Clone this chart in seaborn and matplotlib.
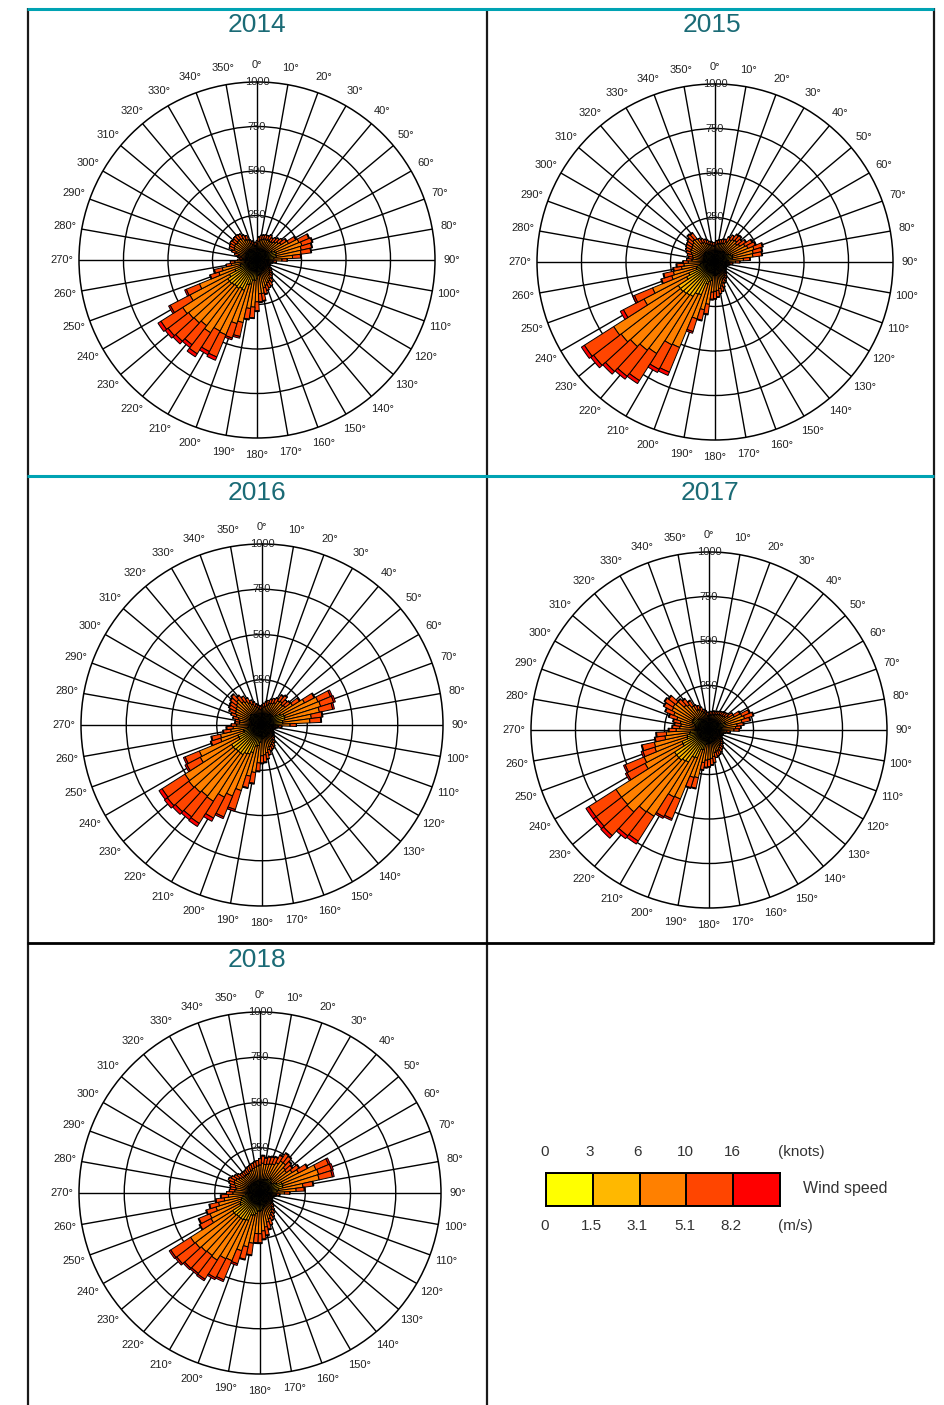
import numpy as np
import pandas as pd
import seaborn as sns
import matplotlib
matplotlib.use("Agg")
import matplotlib.pyplot as plt
from matplotlib.lines import Line2D
from matplotlib.colors import ListedColormap

# ---------------------------------------------------------------------------
# Data: frequency counts per 5-degree direction sector (0, 5, ..., 355)
# split by wind-speed class (m/s): <1.5, 1.5-3.1, 3.1-5.1, 5.1-8.2, >8.2
# ---------------------------------------------------------------------------
directions = list(range(0, 360, 5))
years = ["2014", "2015", "2016", "2017", "2018"]
speed_classes = ["0-1.5", "1.5-3.1", "3.1-5.1", "5.1-8.2", ">8.2"]
speed_colors = ["#FFFF00", "#FFB800", "#FF8000", "#FF4500", "#FF0000"]
knots_ticks = ["0", "3", "6", "10", "16"]
ms_ticks = ["0", "1.5", "3.1", "5.1", "8.2"]

y2014_lt15 = [25, 25, 25, 25, 30, 30, 30, 30, 30, 30, 30, 30,
              40, 40, 40, 40, 40, 40, 30, 25, 25, 25, 25, 25,
              25, 25, 25, 25, 25, 30, 30, 30, 30, 30, 30, 30,
              40, 40, 40, 40, 40, 50, 50, 50, 50, 50, 50, 50,
              50, 40, 40, 40, 30, 30, 25, 25, 25, 25, 30, 30,
              30, 30, 30, 30, 30, 30, 30, 30, 25, 25, 25, 25]
y2014_15_31 = [25, 30, 30, 30, 35, 35, 35, 35, 35, 35, 40, 45,
               55, 70, 75, 70, 70, 55, 35, 25, 25, 25, 25, 25,
               25, 25, 25, 25, 30, 35, 35, 35, 40, 45, 50, 55,
               65, 75, 75, 100, 105, 135, 130, 140, 135, 140, 145, 145,
               125, 95, 60, 55, 40, 35, 25, 25, 25, 30, 35, 35,
               40, 40, 40, 40, 40, 40, 35, 35, 25, 25, 25, 25]
y2014_31_51 = [40, 50, 60, 65, 60, 60, 65, 60, 65, 75, 80, 85,
               105, 145, 150, 145, 140, 105, 75, 40, 30, 20, 20, 20,
               30, 30, 40, 50, 50, 60, 70, 75, 80, 85, 110, 105,
               130, 150, 160, 220, 230, 270, 270, 295, 280, 290, 290, 300,
               250, 215, 125, 105, 75, 60, 40, 30, 40, 50, 60, 75,
               75, 80, 75, 80, 80, 75, 65, 60, 50, 40, 30, 30]
y2014_51_82 = [20, 25, 25, 25, 25, 25, 30, 25, 30, 30, 30, 35,
               45, 60, 60, 60, 55, 45, 30, 20, 10, 10, 10, 10,
               10, 20, 20, 20, 25, 25, 30, 30, 30, 35, 40, 45,
               50, 60, 60, 80, 85, 135, 130, 140, 135, 140, 145, 145,
               125, 80, 50, 45, 30, 25, 20, 20, 20, 25, 25, 30,
               30, 30, 30, 30, 30, 30, 30, 25, 20, 20, 20, 20]
y2014_gt82 = [0, 0, 0, 0, 0, 0, 0, 0, 0, 0, 0, 5,
              5, 5, 5, 5, 5, 5, 0, 0, 0, 0, 0, 0,
              0, 0, 0, 0, 0, 0, 0, 0, 0, 5, 5, 5,
              5, 5, 5, 10, 10, 20, 20, 20, 20, 20, 20, 20,
              10, 10, 5, 5, 0, 0, 0, 0, 0, 0, 0, 0,
              0, 0, 0, 0, 0, 0, 0, 0, 0, 0, 0, 0]

y2015_lt15 = [25, 25, 25, 25, 25, 25, 30, 30, 30, 30, 30, 30,
              30, 40, 40, 40, 40, 30, 25, 25, 25, 25, 25, 25,
              25, 25, 25, 25, 25, 25, 25, 25, 30, 30, 30, 30,
              30, 30, 40, 40, 40, 50, 50, 50, 50, 50, 50, 50,
              50, 50, 40, 40, 30, 30, 30, 30, 30, 30, 30, 30,
              30, 30, 30, 30, 30, 30, 30, 25, 25, 25, 25, 25]
y2015_15_31 = [25, 25, 30, 30, 30, 30, 35, 40, 45, 45, 40, 45,
               55, 55, 65, 60, 60, 45, 30, 25, 25, 25, 25, 25,
               25, 25, 25, 25, 25, 25, 25, 30, 35, 35, 40, 45,
               45, 45, 65, 75, 90, 150, 155, 180, 185, 190, 195, 195,
               130, 110, 70, 65, 55, 50, 40, 35, 35, 35, 35, 40,
               40, 40, 45, 45, 45, 35, 35, 30, 30, 25, 25, 25]
y2015_31_51 = [40, 50, 50, 50, 55, 60, 65, 80, 85, 90, 85, 90,
               105, 105, 125, 120, 115, 85, 60, 30, 25, 15, 10, 10,
               10, 15, 20, 30, 30, 40, 50, 50, 60, 75, 80, 85,
               90, 95, 135, 160, 205, 320, 320, 380, 390, 405, 420, 430,
               270, 220, 145, 135, 105, 95, 80, 65, 60, 65, 75, 80,
               80, 85, 85, 95, 90, 65, 60, 60, 50, 50, 45, 40]
y2015_51_82 = [20, 20, 20, 25, 25, 25, 30, 30, 35, 35, 35, 40,
               45, 45, 50, 50, 50, 35, 25, 20, 10, 10, 10, 10,
               10, 10, 10, 10, 20, 20, 20, 25, 25, 30, 30, 35,
               40, 40, 55, 60, 75, 150, 155, 180, 185, 190, 195, 195,
               130, 110, 60, 55, 45, 40, 30, 30, 25, 30, 30, 30,
               35, 35, 35, 40, 40, 30, 25, 25, 25, 20, 20, 20]
y2015_gt82 = [0, 0, 0, 0, 0, 0, 0, 0, 5, 5, 0, 5,
              5, 5, 5, 5, 5, 5, 0, 0, 0, 0, 0, 0,
              0, 0, 0, 0, 0, 0, 0, 0, 0, 0, 0, 5,
              5, 5, 5, 5, 10, 20, 20, 20, 20, 20, 20, 20,
              20, 10, 5, 5, 5, 5, 0, 0, 0, 0, 0, 0,
              0, 0, 5, 5, 5, 0, 0, 0, 0, 0, 0, 0]

y2016_lt15 = [25, 25, 25, 25, 30, 30, 30, 30, 30, 30, 30, 40,
              40, 40, 40, 40, 40, 40, 30, 25, 25, 25, 25, 25,
              25, 25, 25, 25, 25, 25, 25, 25, 30, 30, 30, 30,
              30, 40, 40, 40, 50, 50, 50, 50, 50, 50, 50, 50,
              40, 40, 40, 40, 30, 30, 30, 30, 30, 30, 30, 30,
              30, 30, 30, 30, 30, 30, 30, 30, 25, 25, 25, 25]
y2016_15_31 = [25, 25, 30, 30, 35, 35, 35, 45, 45, 40, 45, 55,
               75, 90, 95, 90, 75, 75, 40, 25, 25, 25, 25, 25,
               25, 25, 25, 25, 25, 25, 30, 30, 35, 35, 40, 45,
               45, 55, 75, 80, 110, 125, 130, 145, 145, 145, 150, 150,
               105, 105, 65, 65, 50, 45, 35, 35, 35, 35, 40, 45,
               45, 45, 50, 50, 45, 40, 35, 35, 30, 25, 25, 25]
y2016_31_51 = [40, 50, 50, 60, 60, 65, 75, 85, 90, 85, 85, 105,
               150, 205, 205, 195, 160, 150, 85, 40, 25, 15, 10, 10,
               15, 20, 25, 35, 35, 50, 55, 65, 60, 75, 85, 90,
               95, 115, 150, 170, 220, 250, 270, 305, 300, 310, 310, 305,
               240, 230, 135, 130, 95, 85, 75, 60, 60, 70, 80, 85,
               90, 95, 100, 110, 90, 85, 75, 60, 55, 50, 40, 35]
y2016_51_82 = [20, 20, 25, 25, 25, 30, 30, 35, 40, 35, 35, 45,
               60, 75, 75, 75, 60, 60, 35, 20, 10, 10, 10, 10,
               10, 10, 10, 10, 20, 20, 25, 25, 25, 30, 35, 40,
               40, 45, 60, 65, 110, 125, 130, 145, 145, 145, 150, 150,
               85, 85, 55, 50, 40, 35, 30, 25, 25, 30, 30, 35,
               40, 40, 40, 40, 40, 35, 30, 25, 25, 20, 20, 20]
y2016_gt82 = [0, 0, 0, 0, 0, 0, 0, 5, 5, 0, 5, 5,
              5, 10, 10, 10, 5, 5, 0, 0, 0, 0, 0, 0,
              0, 0, 0, 0, 0, 0, 0, 0, 0, 0, 0, 5,
              5, 5, 5, 5, 10, 10, 20, 20, 20, 20, 20, 20,
              10, 10, 5, 5, 5, 5, 0, 0, 0, 0, 0, 5,
              5, 5, 5, 5, 5, 0, 0, 0, 0, 0, 0, 0]

y2017_lt15 = [25, 25, 25, 25, 25, 25, 25, 25, 25, 25, 25, 30,
              30, 40, 40, 30, 30, 30, 30, 25, 25, 25, 25, 25,
              25, 25, 25, 25, 25, 25, 25, 30, 30, 30, 30, 30,
              30, 30, 30, 40, 40, 50, 50, 50, 50, 50, 50, 50,
              50, 50, 40, 40, 40, 40, 30, 30, 30, 30, 30, 40,
              40, 40, 40, 30, 30, 30, 30, 30, 25, 25, 25, 25]
y2017_15_31 = [25, 25, 25, 25, 25, 25, 25, 30, 30, 30, 30, 35,
               45, 55, 60, 55, 45, 40, 35, 25, 25, 25, 25, 25,
               25, 25, 25, 25, 25, 30, 30, 35, 35, 35, 40, 45,
               45, 45, 50, 75, 75, 120, 125, 165, 170, 180, 180, 180,
               115, 115, 90, 85, 70, 65, 50, 45, 45, 45, 55, 60,
               65, 65, 65, 55, 50, 45, 35, 35, 30, 25, 25, 25]
y2017_31_51 = [30, 35, 35, 40, 40, 45, 50, 50, 50, 55, 60, 65,
               85, 105, 110, 105, 85, 80, 75, 50, 35, 25, 20, 20,
               25, 30, 30, 40, 50, 50, 60, 60, 60, 65, 80, 85,
               90, 95, 105, 160, 165, 250, 250, 360, 360, 395, 390, 390,
               240, 230, 190, 190, 140, 135, 105, 90, 85, 90, 105, 115,
               130, 135, 130, 105, 100, 85, 65, 60, 55, 50, 40, 30]
y2017_51_82 = [20, 20, 20, 20, 20, 20, 20, 20, 25, 25, 25, 30,
               35, 45, 50, 45, 35, 30, 30, 20, 10, 10, 10, 10,
               10, 10, 20, 20, 20, 25, 25, 25, 30, 30, 35, 35,
               40, 40, 40, 60, 60, 120, 125, 165, 170, 180, 180, 180,
               115, 115, 70, 70, 55, 55, 40, 40, 35, 40, 45, 50,
               50, 55, 50, 45, 40, 35, 30, 25, 25, 20, 20, 20]
y2017_gt82 = [0, 0, 0, 0, 0, 0, 0, 0, 0, 0, 0, 0,
              5, 5, 5, 5, 5, 0, 0, 0, 0, 0, 0, 0,
              0, 0, 0, 0, 0, 0, 0, 0, 0, 0, 0, 5,
              5, 5, 5, 5, 5, 10, 10, 20, 20, 20, 20, 20,
              10, 10, 10, 5, 5, 5, 5, 5, 5, 5, 5, 5,
              5, 5, 5, 5, 5, 5, 0, 0, 0, 0, 0, 0]

y2018_lt15 = [30, 30, 30, 30, 30, 30, 30, 40, 40, 30, 30, 40,
              40, 40, 40, 40, 40, 40, 30, 25, 25, 25, 25, 25,
              25, 25, 25, 25, 25, 25, 30, 30, 30, 30, 30, 40,
              40, 40, 40, 40, 40, 50, 50, 50, 50, 50, 50, 50,
              40, 40, 40, 40, 40, 30, 30, 30, 30, 30, 30, 30,
              30, 30, 30, 30, 30, 30, 30, 30, 30, 30, 30, 30]
y2018_15_31 = [40, 45, 45, 45, 45, 50, 55, 60, 55, 55, 50, 55,
               65, 90, 95, 90, 65, 55, 35, 25, 25, 25, 25, 25,
               25, 25, 25, 25, 25, 30, 35, 35, 40, 45, 55, 55,
               60, 60, 75, 85, 90, 115, 120, 125, 125, 125, 130, 130,
               85, 80, 70, 65, 55, 50, 40, 35, 35, 35, 40, 40,
               40, 35, 35, 35, 35, 35, 35, 35, 35, 35, 40, 40]
y2018_31_51 = [85, 90, 85, 90, 95, 95, 105, 110, 115, 105, 105, 115,
               135, 205, 205, 205, 135, 105, 70, 40, 30, 20, 15, 15,
               20, 25, 35, 35, 50, 55, 60, 70, 80, 90, 105, 115,
               125, 125, 165, 180, 205, 240, 240, 265, 260, 265, 270, 275,
               180, 180, 145, 130, 105, 95, 80, 75, 70, 75, 80, 85,
               80, 75, 65, 60, 60, 60, 60, 65, 70, 75, 75, 80]
y2018_51_82 = [35, 40, 35, 40, 40, 40, 45, 50, 45, 45, 40, 45,
               55, 75, 75, 75, 55, 45, 30, 20, 10, 10, 10, 10,
               10, 10, 10, 20, 20, 25, 25, 30, 35, 40, 45, 45,
               50, 50, 65, 70, 75, 115, 120, 125, 125, 125, 130, 130,
               70, 65, 55, 50, 45, 40, 35, 30, 30, 30, 30, 35,
               30, 30, 30, 25, 25, 25, 30, 30, 30, 30, 30, 30]
y2018_gt82 = [0, 5, 5, 5, 5, 5, 5, 5, 5, 5, 5, 5,
              5, 10, 10, 10, 5, 5, 0, 0, 0, 0, 0, 0,
              0, 0, 0, 0, 0, 0, 0, 0, 0, 5, 5, 5,
              5, 5, 5, 5, 10, 10, 10, 10, 10, 10, 10, 10,
              5, 5, 5, 5, 5, 5, 0, 0, 0, 0, 0, 0,
              0, 0, 0, 0, 0, 0, 0, 0, 0, 0, 0, 0]

year_series = {
    "2014": [y2014_lt15, y2014_15_31, y2014_31_51, y2014_51_82, y2014_gt82],
    "2015": [y2015_lt15, y2015_15_31, y2015_31_51, y2015_51_82, y2015_gt82],
    "2016": [y2016_lt15, y2016_15_31, y2016_31_51, y2016_51_82, y2016_gt82],
    "2017": [y2017_lt15, y2017_15_31, y2017_31_51, y2017_51_82, y2017_gt82],
    "2018": [y2018_lt15, y2018_15_31, y2018_31_51, y2018_51_82, y2018_gt82],
}

# Long-form table: one row per year / direction / speed class
rows = []
for yr in years:
    for cls, vals in zip(speed_classes, year_series[yr]):
        for d, v in zip(directions, vals):
            rows.append((yr, d, cls, v))
df = pd.DataFrame(rows, columns=["year", "direction", "speed", "count"])

# ---------------------------------------------------------------------------
# Styling
# ---------------------------------------------------------------------------
sns.set_theme(style="white")
plt.rcParams["font.family"] = ["Liberation Sans", "DejaVu Sans"]

W, H = 944, 1405
fig = plt.figure(figsize=(W / 100, H / 100), dpi=100)
fig.patch.set_facecolor("white")

TEAL = "#00A3B3"
TITLE = "#1B6B76"
TEXT = "#333333"


def fx(x):
    return x / W


def fy(y):
    return 1 - y / H


# panel frame
def hline(y, x0, x1, color, lw):
    fig.add_artist(Line2D([fx(x0), fx(x1)], [fy(y), fy(y)], color=color, lw=lw,
                          transform=fig.transFigure, solid_capstyle="butt"))


def vline(x, y0, y1, color, lw):
    fig.add_artist(Line2D([fx(x), fx(x)], [fy(y0), fy(y1)], color=color, lw=lw,
                          transform=fig.transFigure, solid_capstyle="butt"))


vline(27.5, 8, 1405, "#1a1a1a", 1.6)
vline(487, 8, 1405, "#1a1a1a", 1.6)
vline(934, 8, 943, "#1a1a1a", 1.6)
hline(943, 27, 934, "black", 2.0)
hline(8.5, 27, 934, TEAL, 2.2)
hline(476, 27, 934, TEAL, 2.2)

# panel placement: (center x, center y, radius) in pixels, and title position
panels = {
    "2014": (257, 260, 178, 257, 25),
    "2015": (715, 262, 178, 712, 25),
    "2016": (262, 725, 181, 257, 493),
    "2017": (709, 730, 178, 710, 493),
    "2018": (260, 1193, 181, 257, 960),
}

width = np.deg2rad(5)

for yr in years:
    cx, cy, r, tx, ty = panels[yr]
    ax = fig.add_axes([fx(cx - r), fy(cy + r), 2 * r / W, 2 * r / H],
                      projection="polar")
    ax.set_theta_zero_location("N")
    ax.set_theta_direction(-1)
    ax.set_ylim(0, 1000)
    ax.set_facecolor("white")
    ax.set_axisbelow(True)

    sub = df[df["year"] == yr]
    bottom = np.zeros(len(directions))
    theta = np.deg2rad(directions)
    for cls, col in zip(speed_classes, speed_colors):
        vals = sub[sub["speed"] == cls].sort_values("direction")["count"].to_numpy()
        ax.bar(theta, vals, width=width, bottom=bottom, color=col,
               edgecolor="black", linewidth=0.7, align="center", zorder=3)
        bottom = bottom + vals

    ax.set_xticks(np.deg2rad(np.arange(0, 360, 10)))
    ax.set_xticklabels([])
    ax.set_yticks([250, 500, 750])
    ax.set_yticklabels([])
    ax.grid(True, color="black", linewidth=1.0)
    ax.spines["polar"].set_color("black")
    ax.spines["polar"].set_linewidth(1.1)
    ax.tick_params(pad=0, length=0)

    for d in range(0, 360, 10):
        ax.text(np.deg2rad(d), 1095, f"{d}°", ha="center", va="center",
                fontsize=8, color="#222222", clip_on=False, zorder=5)
    for rv in [250, 500, 750, 1000]:
        ax.text(0, rv, str(rv), ha="center", va="center", fontsize=8,
                color="#222222", clip_on=False, zorder=5)

    fig.text(fx(tx), fy(ty), yr, ha="center", va="center", fontsize=19,
             color=TITLE)

# ---------------------------------------------------------------------------
# Wind speed legend
# ---------------------------------------------------------------------------
lax = fig.add_axes([fx(546), fy(1206), (780 - 546) / W, (1206 - 1173) / H])
sns.heatmap(np.arange(5).reshape(1, 5), cmap=ListedColormap(speed_colors),
            cbar=False, linewidths=1.2, linecolor="black", ax=lax,
            xticklabels=False, yticklabels=False)
for s in lax.spines.values():
    s.set_visible(True)
    s.set_color("black")
    s.set_linewidth(1.4)

knot_x = [545, 590, 638, 685, 732]
ms_x = [545, 591, 637, 685, 731]
for x, lab in zip(knot_x, knots_ticks):
    fig.text(fx(x), fy(1152), lab, ha="center", va="center", fontsize=11,
             color=TEXT)
for x, lab in zip(ms_x, ms_ticks):
    fig.text(fx(x), fy(1226), lab, ha="center", va="center", fontsize=11,
             color=TEXT)
fig.text(fx(778), fy(1152), "(knots)", ha="left", va="center", fontsize=11,
         color=TEXT)
fig.text(fx(778), fy(1226), "(m/s)", ha="left", va="center", fontsize=11,
         color=TEXT)
fig.text(fx(803), fy(1188), "Wind speed", ha="left", va="center", fontsize=11.5,
         color=TEXT)

fig.savefig("out.png", dpi=100, facecolor="white")
